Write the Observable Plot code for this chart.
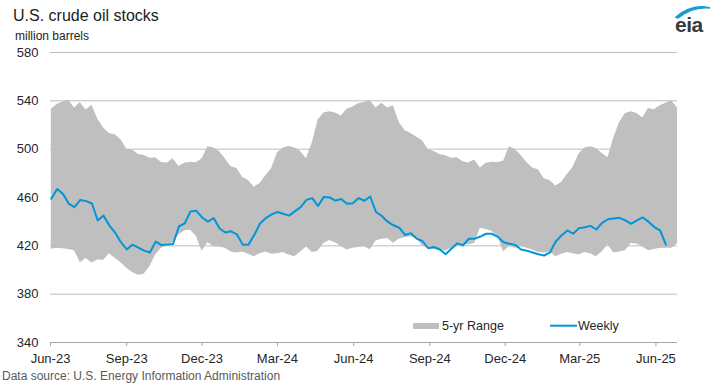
<!DOCTYPE html>
<html>
<head>
<meta charset="utf-8">
<script src="https://cdn.jsdelivr.net/npm/d3@7"></script>
<script src="https://cdn.jsdelivr.net/npm/@observablehq/plot@0.6"></script>
<style>
  html, body { margin: 0; padding: 0; background: #fff; }
  #wrap { position: relative; width: 719px; height: 384px; overflow: hidden;
          font-family: "Liberation Sans", Arial, sans-serif; color: #262626; }
  .t { position: absolute; white-space: nowrap; line-height: 1; }
  #chart svg { display: block; }
</style>
</head>
<body>
<div id="wrap">
  <div id="chart"></div>
  <div class="t" style="left:13px; top:7.5px; font-size:16px; color:#222;">U.S. crude oil stocks</div>
  <div class="t" style="left:15px; top:30.3px; font-size:12px; color:#222;">million barrels</div>
  <svg style="position:absolute; left:0; top:0;" width="719" height="384">
    <path d="M676,17 Q692,3 710,8 Q693,6 678,18 Z" fill="#1a9ad6" stroke="#1a9ad6" stroke-width="1.5"/>
    <rect x="413" y="323" width="26" height="6" fill="#bfbfbf"/>
    <line x1="550" y1="325.7" x2="577" y2="325.7" stroke="#0096d7" stroke-width="2"/>
  </svg>
  <div class="t" style="left:675px; top:14px; font-size:21px; font-weight:bold; color:#3a3a3a; letter-spacing:-0.5px;">eia</div>
  <div class="t" style="left:442px; top:320px; font-size:12.5px;">5-yr Range</div>
  <div class="t" style="left:578px; top:320px; font-size:12.5px;">Weekly</div>
  <div class="t" style="left:2px; top:369.8px; font-size:12px; color:#595959;">Data source: U.S. Energy Information Administration</div>
</div>
<script>
// Weekly U.S. crude oil stocks (million barrels), weeks ending Fridays from 2023-06-02
const weeklyStart = "2023-06-02";
const weeklyValues = [
  459, 467, 463, 455, 452, 458, 457, 455, 441, 445,
  437, 431, 423, 417, 421, 418.5, 416, 414.5, 423.5, 420.6,
  421, 421.5, 436, 438.5, 448.5, 449, 443.5, 440, 443, 434.5,
  431, 432, 429.5, 421, 421, 429, 438.5, 443, 446, 448,
  446.5, 445, 448.5, 452, 458, 459.5, 453, 460.5, 460, 457.5,
  458.8, 454.8, 455.3, 459.5, 457.3, 460.8, 448, 444.7, 440, 437,
  435, 429, 430.5, 426, 424, 418, 419, 417, 413, 417.5,
  422, 420.5, 425.8, 425.8, 427.7, 430, 430, 427.5, 423, 421.8,
  420.8, 417, 416, 414.5, 413, 412, 414.5, 423.6, 428.6, 432.7,
  430, 434.5, 435.4, 436.5, 433.5, 439, 442, 442.6, 443.2, 441,
  438.2, 441, 443.5, 440, 435.5, 432.7, 421
];
// 5-year range (max / min), same weekly dates, two weeks longer
const rangeHigh = [
  533, 537, 539, 540.5, 534, 538.6, 532.5, 536.4, 525, 517.5,
  513, 512, 508, 500, 499.4, 495.5, 494.7, 492.5, 493, 489,
  488.5, 492, 485.6, 488.4, 489.2, 488.8, 492, 502, 501, 498,
  492, 485.5, 484, 476.5, 474, 468.5, 471.5, 478, 484, 497,
  501, 502.2, 501, 498, 492, 505, 524, 530, 531, 530,
  527.5, 533, 535, 537.5, 538.6, 540, 534, 538, 534, 536,
  522, 515.5, 513, 510, 507, 500, 498, 495.5, 494.5, 492.5,
  493, 489.5, 488.5, 491, 484.5, 488.4, 489.2, 489, 490, 502,
  500, 495, 489, 484.5, 483, 475.5, 474, 469.5, 472.4, 479,
  485, 496, 501, 502, 500.5, 496.5, 492.8, 509, 522, 529.5,
  531, 529.5, 525.7, 533.7, 532.6, 536, 538, 540, 534
];
const rangeLow = [
  417.2, 418, 417.5, 417, 416, 406, 409.5, 405.7, 408.3, 408,
  413.4, 409.8, 406, 401.5, 398, 395.6, 396.5, 403, 412.5, 418,
  420, 423, 429, 432.5, 433, 428, 415.5, 422.5, 419.5, 419,
  418, 415, 414, 415, 413, 411, 413.5, 415, 413, 413.5,
  414.4, 412.5, 411, 415, 419, 414.5, 415.5, 422, 424.5, 422.5,
  419.5, 416.6, 418, 418.7, 419.2, 416.7, 424, 425.5, 426, 422.2,
  425.5, 427, 427.6, 426, 420, 418, 417, 416.5, 415.5, 418,
  420.2, 420.5, 421, 422, 434.6, 433.5, 432, 428, 415.2, 419.4,
  418, 419.4, 418, 416.5, 414.5, 414, 415, 411, 413, 414.5,
  413.5, 412.5, 414.5, 413.5, 411, 415, 420.8, 414, 415, 416,
  422, 421.5, 419, 416, 417, 418, 418, 418, 422
];
const yTicks = [340, 380, 420, 460, 500, 540, 580];
const xTickDates = ["2023-06-01", "2023-09-01", "2023-12-01", "2024-03-01", "2024-06-01",
                    "2024-09-01", "2024-12-01", "2025-03-01", "2025-06-01"];
const xTickLabels = ["Jun-23", "Sep-23", "Dec-23", "Mar-24", "Jun-24",
                     "Sep-24", "Dec-24", "Mar-25", "Jun-25"];
const xDomain = ["2023-06-01", "2025-06-27"];

const start = new Date(weeklyStart + "T00:00:00Z");
const weekDate = i => new Date(start.getTime() + i * 7 * 86400000);
const weekly = weeklyValues.map((v, i) => ({date: weekDate(i), value: v}));
const range = rangeHigh.map((h, i) => ({date: weekDate(i), hi: h, lo: rangeLow[i]}));
const xTicks = xTickDates.map(d => new Date(d + "T00:00:00Z"));
const labelOf = new Map(xTicks.map((d, i) => [+d, xTickLabels[i]]));

const chart = Plot.plot({
  width: 719,
  height: 384,
  marginTop: 52,
  marginBottom: 42,
  marginLeft: 50,
  marginRight: 42,
  style: {fontFamily: '"Liberation Sans", Arial, sans-serif', fontSize: "13px", color: "#262626", background: "transparent"},
  x: {type: "utc", domain: xDomain.map(d => new Date(d + "T00:00:00Z"))},
  y: {domain: [340, 580]},
  marks: [
    Plot.gridY(yTicks.filter(d => d > 340), {stroke: "#bdbdbd", strokeOpacity: 1}),
    Plot.areaY(range, {x: "date", y1: "lo", y2: "hi", fill: "#bfbfbf"}),
    Plot.line(weekly, {x: "date", y: "value", stroke: "#0096d7", strokeWidth: 2}),
    Plot.ruleY([340], {stroke: "#a6a6a6"}),
    Plot.axisY(yTicks, {tickSize: 0, tickPadding: 12, fontSize: 13}),
    Plot.axisX(xTicks, {tickSize: 4, tickPadding: 7, stroke: "#a6a6a6", fontSize: 13,
                        tickFormat: d => labelOf.get(+d)})
  ]
});
document.getElementById("chart").appendChild(chart);
</script>
</body>
</html>
